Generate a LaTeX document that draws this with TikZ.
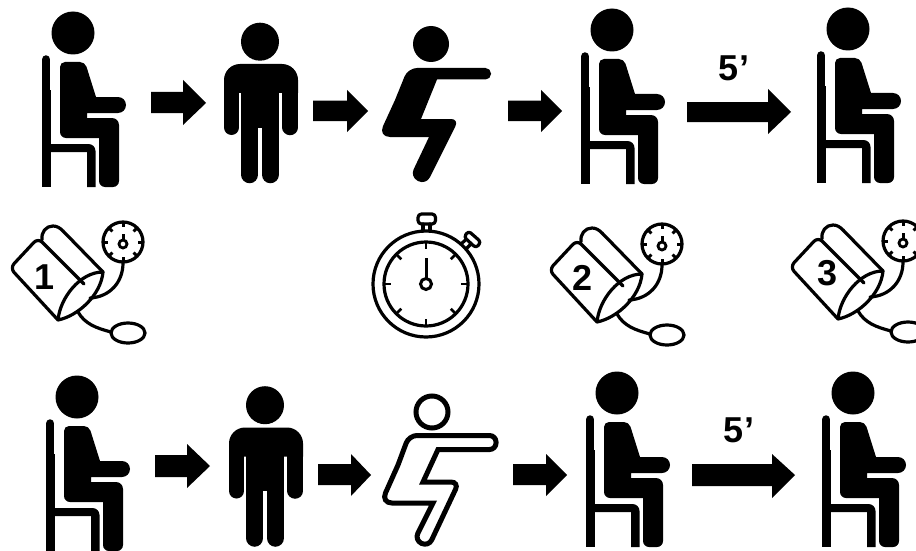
\documentclass[tikz,border=0pt]{standalone}
\usepackage{fontspec}
\setmainfont{Liberation Sans}
\begin{document}
\begin{tikzpicture}[x=1pt,y=-1pt,
  lab/.style={font=\bfseries\fontsize{36}{36}\selectfont,inner sep=0pt,text=black},
  ln/.style={line width=3.2pt,line cap=round,line join=round},
  seated/.pic={
    \fill (73,33) circle[radius=21.5pt];
    \draw[line width=8.5pt,line cap=round] (46.2,59.5) -- (46.2,100);
    \fill (42,90) rectangle (50.5,187);
    \fill (50,144) [rounded corners=7pt] -- (95.5,144) [sharp corners] -- (95.5,187) -- (87,187) -- (87,152) -- (50,152) -- cycle;
    \fill (60,100) [rounded corners=5pt] -- (60,62) -- (85,62) [sharp corners] -- (96,97)
      [rounded corners=8pt] -- (126,97) -- (126,113) [sharp corners] -- (87,113) -- (87,118)
      [rounded corners=7pt] -- (119,118) [rounded corners=6pt] -- (119,187) -- (99,187) [sharp corners] -- (99,138)
      [rounded corners=6pt] -- (60,138) [sharp corners] -- cycle;
  },
  standing/.pic={
    \fill (260,41.7) circle[radius=19pt];
    \fill (224,93) [rounded corners=16pt] -- (224,64) -- (298,64) [sharp corners] -- (298,93) -- cycle;
    \draw[line width=15pt,line cap=round] (231.5,90) -- (231.5,127.5);
    \draw[line width=15.5pt,line cap=round] (290.2,90) -- (290.2,127.5);
    \fill (241,85) rectangle (279,127.5);
    \draw[line width=17.5pt,line cap=round] (249.7,120) -- (249.7,174.5);
    \draw[line width=17.5pt,line cap=round] (270.3,120) -- (270.3,174.5);
  },
  cuff/.pic={
    \draw[ln] (123,242) circle[radius=20pt];
    \foreach \a in {0,45,...,315}
      \draw[line width=3pt] (123,242) ++(\a:20pt) -- ++(\a:-5pt);
    \draw[line width=2.8pt] (123,244) circle[radius=4pt];
    \draw[line width=3pt] (123,240) -- (123,234);
    \draw[ln] (90,298) .. controls (110,297) and (123,282) .. (123,263);
    \draw[ln] (78,312) .. controls (85,324) and (96,328) .. (111,332);
    \draw[ln] (128,333) ellipse[x radius=17pt,y radius=10pt];
    \draw[ln,rounded corners=6pt] (84,284) -- (38,238) -- (10,268) -- (58,320);
    \draw[ln] (42,240) .. controls (41,232) and (46,226) .. (53,226) .. controls (57,226) and (60,228) .. (63,231) -- (103,272);
    \draw[ln] (58,320) .. controls (78,316) and (101,295) .. (103,272) .. controls (80,272) and (60,298) .. (58,320);
  },
  watch/.pic={
    \draw[ln] (426,284) circle[radius=53pt];
    \draw[ln] (426,284) circle[radius=42pt];
    \foreach \a in {0,45,...,315}
      \draw[line width=2.8pt] (426,284) ++(\a:41pt) -- ++(\a:-6pt);
    \draw[ln,rounded corners=3.5pt] (418,224) -- (418,214) -- (435.5,214) -- (435.5,224) -- cycle;
    \draw[ln] (423,224) -- (423,231);
    \draw[ln] (430,224) -- (430,231);
    \draw[ln,rounded corners=3pt] (464,237) -- (468.5,231) -- (481,242) -- (476,248) -- cycle;
    \draw[ln] (461,244) -- (466,239.5);
    \draw[ln] (466,249) -- (471,244);
    \draw[line width=3pt] (426,258) -- (426,278);
    \draw[line width=3pt] (426,284) circle[radius=5.5pt];
  }]
\useasboundingbox (0,0) rectangle (916,551);
\clip (0,0) rectangle (916,551);
% top row
\pic (s1) at (0,0) {seated};
\pic (p1) at (0,0) {standing};
\pic (s2) at (539,-3) {seated};
\pic (s3) at (775,-4) {seated};
% squat, solid
\fill (431,44) circle[radius=18pt];
\fill (395,100) [rounded corners=9pt] -- (408,68) [rounded corners=5.5pt] -- (491,68) -- (491,79.5) [sharp corners] -- (437,79.5) -- (421,119)
  [rounded corners=8pt] -- (459,119) [rounded corners=8.5pt] -- (426,185) -- (410,177) [sharp corners] -- (429,137)
  [rounded corners=12pt] -- (378,137) [sharp corners] -- cycle;
% arrows top
\fill (151,92) -- (183,92) -- (183,80) -- (206,103) -- (183,125) -- (183,113) -- (151,113) -- cycle;
\fill (313,100.5) -- (347,100.5) -- (347,90) -- (368,111) -- (347,132) -- (347,121) -- (313,121) -- cycle;
\fill (508,100.5) -- (541,100.5) -- (541,90) -- (562,111) -- (541,132) -- (541,121) -- (508,121) -- cycle;
\fill (687,102) -- (768,102) -- (768,89) -- (791,112) -- (768,134) -- (768,122) -- (687,122) -- cycle;
\node[lab,anchor=center] (t1) at (734,68) {5’};
% cuffs and watch
\pic (c1) at (0,0) {cuff};
\pic (c2) at (539,2) {cuff};
\pic (c3) at (780,-1) {cuff};
\pic (w1) at (0,0) {watch};
\node[lab] (n1) at (45,277) {1};
\node[lab] (n2) at (583,278) {2};
\node[lab] (n3) at (828,273) {3};
% bottom row
\pic (s4) at (4,364) {seated};
\pic (p2) at (5,363.5) {standing};
\pic (s5) at (544,360) {seated};
\pic (s6) at (780,360) {seated};
% squat, outline
\draw[line width=5pt] (432,412) circle[radius=16pt];
\draw[line width=5pt] (398,465) [rounded corners=8pt] -- (409,435.5) [rounded corners=6.5pt] -- (496,435.5) -- (496,449.5) [sharp corners] -- (438,449.5) -- (423,482)
  [rounded corners=8pt] -- (459,482) [rounded corners=7.5pt] -- (428.5,546.7) -- (414.5,540) [sharp corners] -- (433,503)
  [rounded corners=11pt] -- (381,503) [sharp corners] -- cycle;
% arrows bottom
\fill (155,455) -- (187,455) -- (187,444) -- (210,466) -- (187,488) -- (187,477) -- (155,477) -- cycle;
\fill (318,464) -- (351,464) -- (351,454) -- (371,475) -- (351,496) -- (351,485) -- (318,485) -- cycle;
\fill (513,464) -- (546,464) -- (546,454) -- (567,475) -- (546,496) -- (546,485) -- (513,485) -- cycle;
\fill (692,464) -- (772,464) -- (772,454) -- (795,475) -- (772,498) -- (772,486) -- (692,486) -- cycle;
\node[lab] (t2) at (739,430) {5’};
\end{tikzpicture}
\end{document}
